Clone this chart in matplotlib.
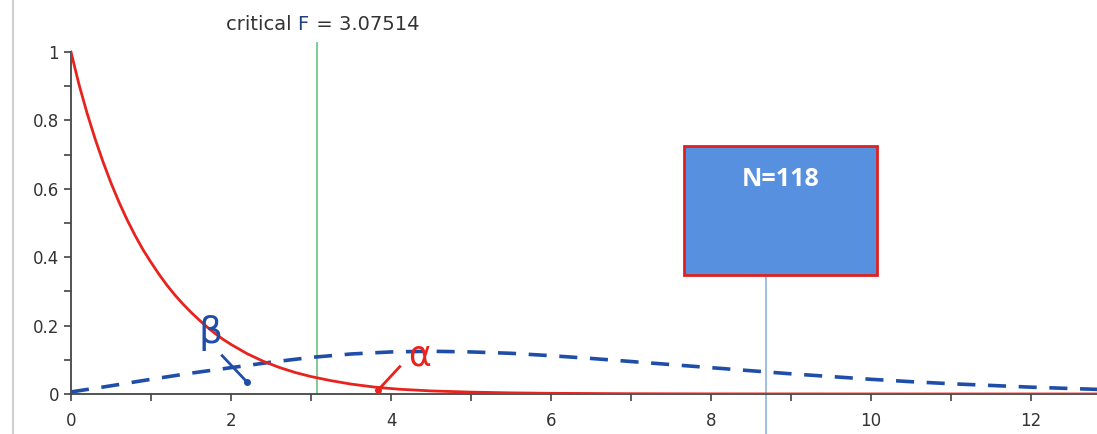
import matplotlib
matplotlib.use("Agg")
import matplotlib.pyplot as plt
from matplotlib.patches import Rectangle
from matplotlib.lines import Line2D

# curva roja: distribucion F central (H0)
x_h0 = [0, 0.1, 0.2, 0.3, 0.4, 0.5, 0.6, 0.7, 0.8, 0.9, 1.0, 1.1, 1.2, 1.3, 1.4, 1.5, 1.6, 1.7, 1.8, 1.9,
        2.0, 2.2, 2.4, 2.6, 2.8, 3.0, 3.25, 3.5, 3.8, 4.1, 4.5, 5, 5.5, 6, 7, 8, 10, 12.9]
y_h0 = [1.0, 0.905, 0.822, 0.747, 0.679, 0.617, 0.561, 0.51, 0.464, 0.422, 0.385, 0.350, 0.318, 0.289, 0.263,
        0.239, 0.217, 0.196, 0.177, 0.16, 0.145, 0.118, 0.096, 0.078, 0.063, 0.051, 0.039, 0.029, 0.020, 0.014,
        0.009, 0.0055, 0.0033, 0.002, 0.0008, 0.0003, 0.0001, 0.0]

# curva azul punteada: distribucion F no central (H1)
x_h1 = [0, 0.5, 1, 1.5, 2, 2.5, 3, 3.5, 4, 4.5, 5, 5.5, 6, 6.5, 7, 7.5, 8, 8.5, 9, 9.5, 10, 10.5, 11, 11.5, 12, 12.5, 12.9]
y_h1 = [0.006, 0.024, 0.043, 0.061, 0.077, 0.093, 0.107, 0.117, 0.123, 0.125, 0.123, 0.119, 0.112, 0.104, 0.095,
        0.086, 0.077, 0.068, 0.059, 0.051, 0.043, 0.036, 0.030, 0.025, 0.020, 0.016, 0.013]

critical_F = 3.07514
n_x = 8.69
xticks = [0, 2, 4, 6, 8, 10, 12]
yticks = [0, 0.2, 0.4, 0.6, 0.8, 1]
ytick_labels = ["0", "0.2", "0.4", "0.6", "0.8", "1"]

fig = plt.figure(figsize=(10.97, 4.34), dpi=100)
ax = fig.add_axes([71/1097, 1 - 394/434, 1 - 71/1097, 1.12 * 342/434])
ax.set_xlim(0, (1097 - 71) / 80)
ax.set_ylim(0, 1.12)

ax.plot(x_h0, y_h0, color="#e8231e", lw=2.0, zorder=4)
ax.plot(x_h1, y_h1, color="#1f4ea8", lw=2.6, dashes=(5, 3.5), zorder=3)

# linea del F critico
ax.plot([critical_F, critical_F], [0, 1.026], color="#72c98c", lw=1.3, zorder=2)
ax.text(2.83, 1.079, "critical ", ha="right", va="center", fontsize=14, color="#333333")
ax.text(2.83, 1.079, "F", ha="left", va="center", fontsize=14, color="#1f3f7a")
ax.text(2.99, 1.079, " = 3.07514", ha="left", va="center", fontsize=14, color="#333333")

# caja N=118
ax.add_patch(Rectangle((7.66, 0.348), 2.42, 0.377, facecolor="#5690de", edgecolor="#e02020", lw=2, zorder=5))
ax.text(8.87, 0.628, "N=118", ha="center", va="center", fontsize=18, fontweight="bold",
        color="white", family="Open Sans", zorder=6)
ax.plot([n_x, n_x], [0.348, -0.12], color="#8bb6dc", lw=1.2, clip_on=False, zorder=2)

# anotaciones a mano
ax.text(1.74, 0.178, "β", ha="center", va="center", fontsize=27, color="#1f4ea8", zorder=6)
ax.plot([1.89, 2.2], [0.112, 0.035], color="#1f4ea8", lw=2, zorder=6)
ax.plot([2.2], [0.035], "o", color="#1f4ea8", ms=4, zorder=6)
ax.text(4.36, 0.114, "α", ha="center", va="center", fontsize=25, color="#e8231e", zorder=6)
ax.plot([4.11, 3.84], [0.080, 0.012], color="#e8231e", lw=2, zorder=6)
ax.plot([3.84], [0.012], "o", color="#e8231e", ms=4, zorder=6)

# ejes
ax.spines["top"].set_visible(False)
ax.spines["right"].set_visible(False)
ax.spines["left"].set_bounds(0, 1)
for s in ["left", "bottom"]:
    ax.spines[s].set_color("#444444")
    ax.spines[s].set_linewidth(1.3)
ax.set_xticks(xticks)
ax.set_xticks(range(1, 13, 2), minor=True)
ax.set_yticks(yticks)
ax.set_yticklabels(ytick_labels)
ax.set_yticks([0.1, 0.3, 0.5, 0.7, 0.9], minor=True)
ax.tick_params(which="both", length=5, width=1.2, color="#444444", labelsize=12, labelcolor="#333333")
ax.tick_params(axis="x", pad=8)

# borde gris a la izquierda de la captura
fig.add_artist(Line2D([13/1097, 13/1097], [0, 1], color="#d0d0d0", lw=1.5))

fig.savefig("out.png", dpi=100)
